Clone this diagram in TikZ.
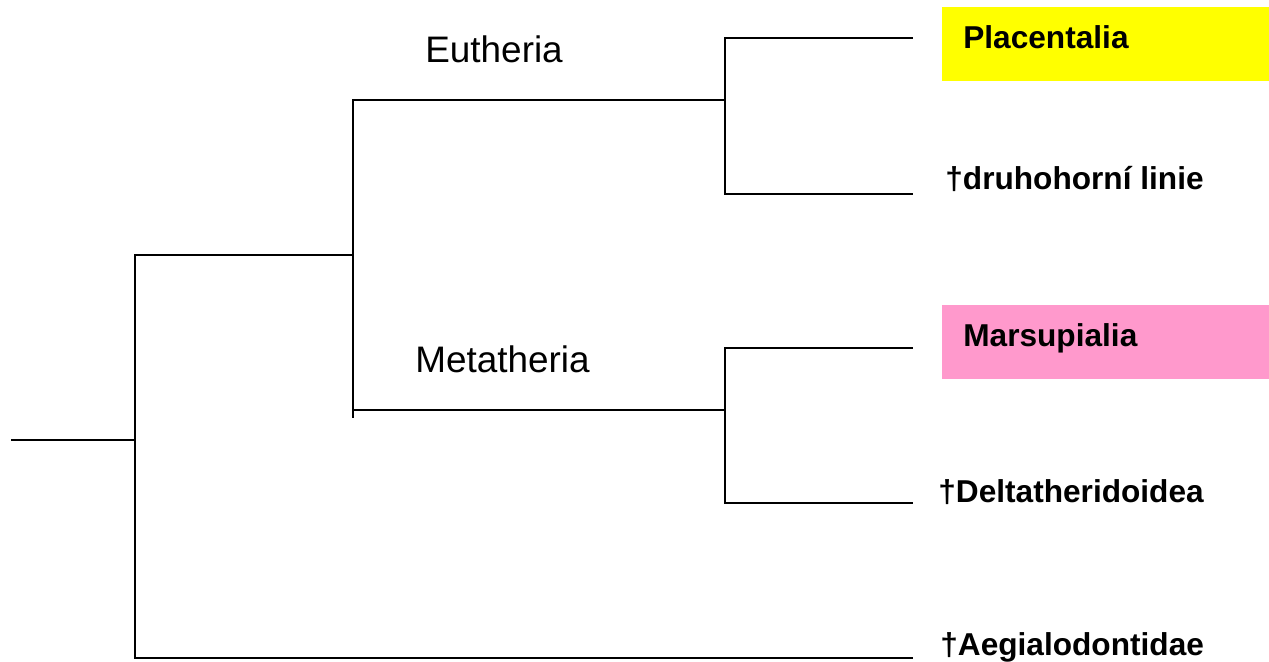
\documentclass[tikz,border=0pt]{standalone}
\usepackage{fontspec}
\setmainfont{Liberation Sans}
\usetikzlibrary{positioning,calc}

\definecolor{placyellow}{RGB}{255,255,0}
\definecolor{marspink}{RGB}{255,153,204}

\tikzset{
  branch/.style={line width=1.1pt, line cap=rect},
  clade/.style={font=\fontsize{21}{25}\selectfont, inner sep=0pt, anchor=base west},
  taxon/.style={font=\fontsize{18}{22}\selectfont\bfseries, inner sep=0pt, anchor=base west},
  taxonbox/.style={taxon, anchor=north west, inner xsep=0.42cm, inner ysep=0pt,
    text width=5.7cm, align=left, text height=0.82cm, text depth=0.66cm}
}

\begin{document}
\begin{tikzpicture}[x=0.02cm, y=-0.02cm]
\useasboundingbox (0,0) rectangle (1269,662);

% junctions of the tree
\coordinate (root) at (12,440);
\coordinate (mammalia) at (135,440);
\coordinate (theria) at (353,255);
\coordinate (eutheria) at (725,100);
\coordinate (metatheria) at (725,410);
% branch tips
\coordinate (tplac) at (912,38);
\coordinate (tdruh) at (912,194);
\coordinate (tmars) at (912,348);
\coordinate (tdelt) at (912,503);
\coordinate (taegi) at (912,658);

% Branches
\draw[branch] (root) -- (mammalia);
\draw[branch] (theria) -| (mammalia) |- (taegi);
\draw[branch] (eutheria) -| (theria) |- (metatheria);
\draw[branch] (theria) -- ($(theria |- metatheria)+(0,7)$);
\draw[branch] (tplac) -| (eutheria) |- (tdruh);
\draw[branch] (tmars) -| (metatheria) |- (tdelt);

% Clade names
\node[clade] (eulabel) at (425,63) {Eutheria};
\node[clade] (metalabel) at (415,373) {Metatheria};

% Taxa
\node[taxonbox, fill=placyellow] (placentalia) at (942,7) {Placentalia};
\node[taxon] (druhohorni) at (945,190) {†druhohorní linie};
\node[taxonbox, fill=marspink] (marsupialia) at (942,305) {Marsupialia};
\node[taxon] (deltather) at (938,502) {†Deltatheridoidea};
\node[taxon] (aegialodont) at (940,655) {†Aegialodontidae};
\end{tikzpicture}
\end{document}
